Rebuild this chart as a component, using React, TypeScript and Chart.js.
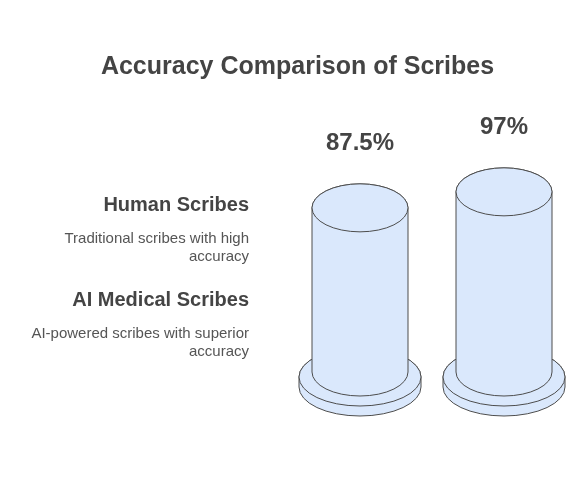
import React, { useEffect, useRef } from 'react';
import Chart from 'chart.js/auto';

const title = 'Accuracy Comparison of Scribes';
const categories = ['Human Scribes', 'AI Medical Scribes'];
const descriptions = [
    ['Traditional scribes with high', 'accuracy'],
    ['AI-powered scribes with superior', 'accuracy'],
];
const accuracy = [87.5, 97];

const FONT = '"Liberation Sans", Arial, Helvetica, sans-serif';
const FILL = '#dae8fc';
const STROKE = '#4d4d4d';

// draws each bar as a cylinder on a round base, plus all the text
const cylinderPlugin = {
    id: 'cylinders',
    afterDatasetsDraw(chart: any) {
        const ctx = chart.ctx;
        const meta = chart.getDatasetMeta(0);
        ctx.save();
        ctx.lineWidth = 1;
        ctx.strokeStyle = STROKE;
        ctx.fillStyle = FILL;

        meta.data.forEach((bar: any, i: number) => {
            const cx = bar.x;
            const top = bar.y;
            const base = bar.base;
            const r = bar.width / 2;
            const ry = r / 2;

            // base disk
            const R = r + 13;
            const RY = 29;
            const dTop = base + 5;
            const T = 10;
            ctx.beginPath();
            ctx.ellipse(cx, dTop, R, RY, 0, Math.PI, Math.PI * 2);
            ctx.lineTo(cx + R, dTop + T);
            ctx.ellipse(cx, dTop + T, R, RY, 0, 0, Math.PI);
            ctx.closePath();
            ctx.fill();
            ctx.stroke();
            ctx.beginPath();
            ctx.ellipse(cx, dTop, R, RY, 0, 0, Math.PI * 2);
            ctx.fill();
            ctx.stroke();

            // body
            ctx.beginPath();
            ctx.moveTo(cx - r, top);
            ctx.lineTo(cx - r, base);
            ctx.ellipse(cx, base, r, ry, 0, Math.PI, 0, true);
            ctx.lineTo(cx + r, top);
            ctx.ellipse(cx, top, r, ry, 0, 0, Math.PI, true);
            ctx.closePath();
            ctx.fill();
            ctx.stroke();
            ctx.beginPath();
            ctx.ellipse(cx, top, r, ry, 0, 0, Math.PI * 2);
            ctx.fill();
            ctx.stroke();

            // value label
            ctx.fillStyle = '#444444';
            ctx.font = `bold 24px ${FONT}`;
            ctx.textAlign = 'center';
            ctx.textBaseline = 'middle';
            ctx.fillText(`${accuracy[i]}%`, cx, top - 64);
            ctx.fillStyle = FILL;
        });

        // title
        ctx.fillStyle = '#444444';
        ctx.textAlign = 'center';
        ctx.textBaseline = 'middle';
        ctx.font = `bold 25px ${FONT}`;
        ctx.fillText(title, 297.5, 67);

        // side legend
        ctx.textAlign = 'right';
        const blockY = [205, 300];
        categories.forEach((name, i) => {
            ctx.fillStyle = '#444444';
            ctx.font = `bold 20px ${FONT}`;
            ctx.fillText(name, 249, blockY[i]);
            ctx.fillStyle = '#555555';
            ctx.font = `15px ${FONT}`;
            descriptions[i].forEach((line, j) => {
                ctx.fillText(line, 249, blockY[i] + 34 + j * 18);
            });
        });
        ctx.restore();
    },
};

const App: React.FC = () => {
    const chartRef = useRef<HTMLCanvasElement>(null);
    const chartInstance = useRef<Chart | null>(null);

    useEffect(() => {
        if (!chartRef.current) return;
        if (chartInstance.current) chartInstance.current.destroy();

        chartInstance.current = new Chart(chartRef.current, {
            type: 'bar',
            data: {
                labels: categories,
                datasets: [{
                    label: 'Accuracy',
                    data: accuracy,
                    base: -10,
                    backgroundColor: 'rgba(0,0,0,0)',
                    borderWidth: 0,
                    barPercentage: 1,
                    categoryPercentage: 2 / 3,
                }],
            },
            options: {
                responsive: false,
                animation: false,
                layout: { padding: { top: 186.8, right: 12, bottom: 120, left: 288 } },
                plugins: {
                    legend: { display: false },
                    tooltip: { enabled: false },
                    title: { display: false },
                },
                scales: {
                    x: { display: false, offset: true },
                    y: { display: false, min: -10, max: 100 },
                },
            },
            plugins: [cylinderPlugin],
        });

        return () => {
            if (chartInstance.current) {
                chartInstance.current.destroy();
                chartInstance.current = null;
            }
        };
    }, []);

    return (
        <div style={{ position: 'absolute', left: 0, top: 0, width: 588, height: 492, background: '#fff' }}>
            <canvas ref={chartRef} width={588} height={492} style={{ display: 'block' }} />
        </div>
    );
};

export default App;
